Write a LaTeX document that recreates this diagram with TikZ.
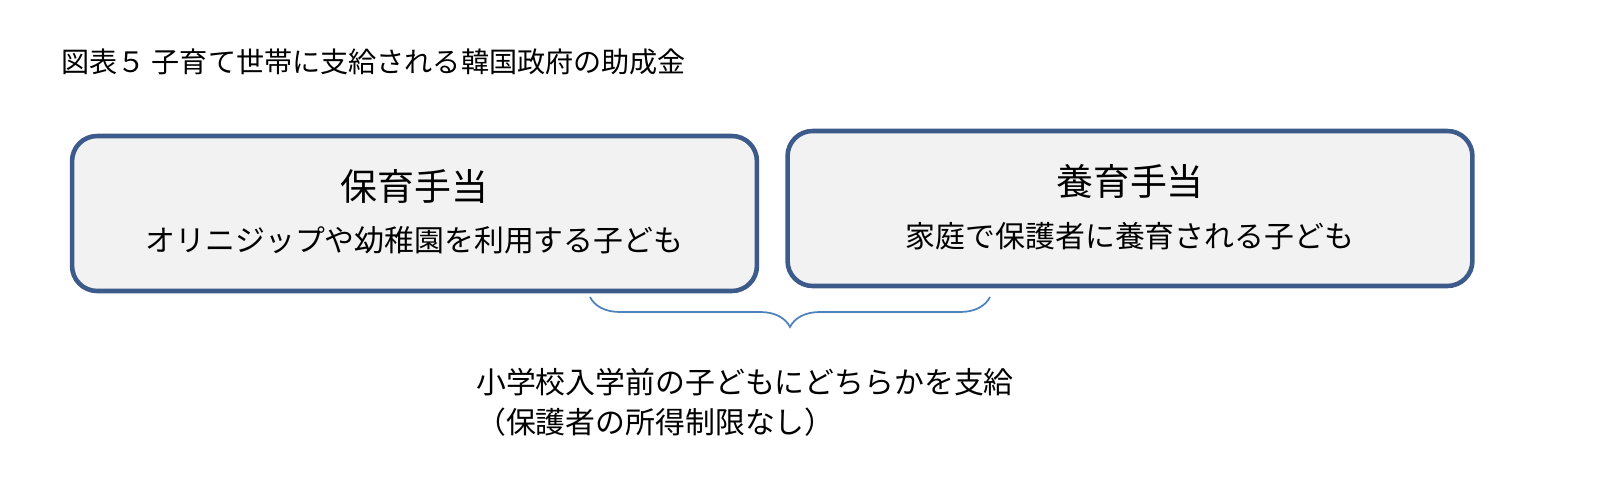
\documentclass[tikz,border=0pt]{standalone}
\usepackage{fontspec}
\setmainfont{Noto Sans CJK JP}
\usetikzlibrary{positioning,decorations.pathreplacing}
\definecolor{boxline}{RGB}{60,90,138}
\definecolor{boxfill}{RGB}{242,242,242}
\definecolor{bracecol}{RGB}{79,129,189}
\tikzstyle{allow}=[draw=boxline, line width=2.6pt, fill=boxfill, rounded corners=0.5cm, minimum width=13.7cm, minimum height=3.1cm]
\tikzstyle{head}=[font=\fontsize{21}{25}\selectfont]
\tikzstyle{sub}=[font=\fontsize{17}{20}\selectfont]
\begin{document}
\begin{tikzpicture}[x=0.02cm,y=-0.02cm]
		    \useasboundingbox (0,0) rectangle (1620,494);
		    \node [anchor=west, font=\fontsize{16}{18}\selectfont] (title) at (55,62) {図表５ 子育て世帯に支給される韓国政府の助成金};
		    \node [allow] (a) at (414.5,213.5) {};
		    \node [allow] (b) at (1130,208.5) {};
		    \node [head] (ah) at (414.5,186) {保育手当};
		    \node [sub] (as) at (414.5,240) {オリニジップや幼稚園を利用する子ども};
		    \node [head] (bh) at (1130,181) {養育手当};
		    \node [sub] (bs) at (1130,236) {家庭で保護者に養育される子ども};
		    \coordinate (bl) at (590,297);
		    \coordinate (br) at (990,297);
		    \draw [bracecol, line width=1pt, decorate, decoration={brace, mirror, amplitude=0.6cm}] (bl) -- (br);
		    \node [anchor=north west, align=left, font=\fontsize{17}{23}\selectfont] (note) at (470,362) {小学校入学前の子どもにどちらかを支給\\（保護者の所得制限なし）};
		\end{tikzpicture}
\end{document}
